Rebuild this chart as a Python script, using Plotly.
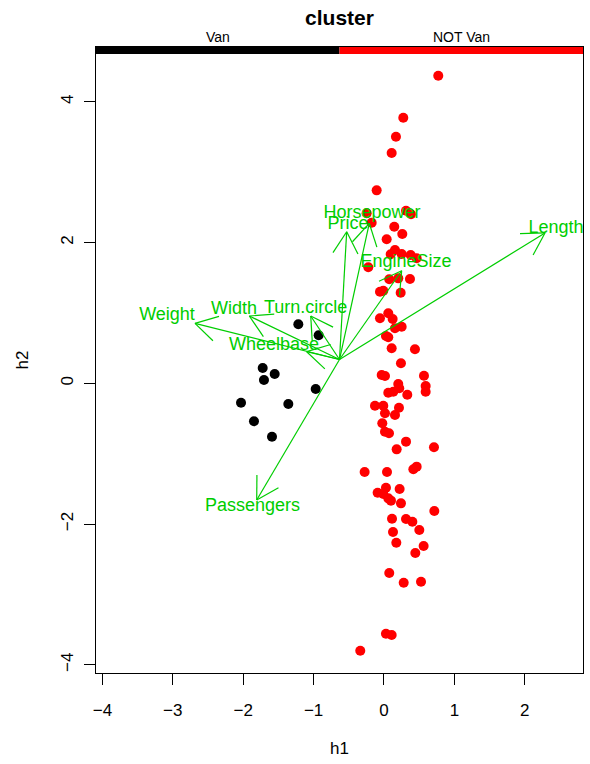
import math
import plotly.graph_objects as go

# ---------------- data ----------------
van_h1 = [-1.217, -0.928, -1.723, -1.553, -1.705, -0.970, -2.031, -1.359, -1.847, -1.591]
van_h2 = [0.838, 0.682, 0.217, 0.132, 0.047, -0.081, -0.276, -0.294, -0.540, -0.759]

notvan_h1 = [0.771, 0.274, 0.170, 0.109, -0.104, -0.246, 0.313, 0.384, -0.175, 0.146, 0.260, 0.038,
             0.156, 0.095, 0.251, 0.379,
             0.464, -0.223, 0.075, 0.203, 0.369, -0.057, -0.010, 0.237, -0.057, 0.061, 0.123, 0.156,
             0.251, 0.028, 0.061, 0.109, 0.440, 0.241, -0.033, 0.014, 0.568, 0.203, 0.592, 0.592,
             0.061, 0.132, 0.217, 0.331, -0.128, -0.010, 0.014, 0.213, 0.156, -0.024, 0.014, 0.071,
             0.313, 0.180, 0.710,
             -0.275, 0.043, 0.417, 0.464, 0.028, -0.090, -0.010, 0.061, 0.099, 0.222, 0.241, 0.715,
             0.114, 0.313, 0.403, 0.502, 0.128, 0.175, 0.563, 0.445, 0.075, 0.280, 0.526, 0.028,
             0.109, -0.337]
notvan_h2 = [4.369, 3.773, 3.503, 3.271, 2.741, 2.415, 2.452, 2.401, 2.281, 2.224, 2.121, 2.045,
             1.893, 1.832, 1.837, 1.822,
             1.776, 1.648, 1.477, 1.491, 1.481, 1.301, 1.315, 1.287, 0.923, 0.994, 0.913, 0.781,
             0.804, 0.672, 0.653, 0.497, 0.483, 0.284, 0.118, 0.104, 0.108, -0.010, -0.038, -0.119,
             -0.133, -0.119, -0.071, -0.162, -0.318, -0.318, -0.426, -0.347, -0.450, -0.568, -0.687, -0.710,
             -0.829, -0.938, -0.909,
             -1.260, -1.260, -1.222, -1.184, -1.483, -1.554, -1.572, -1.634, -1.667, -1.501, -1.705, -1.814,
             -1.923, -1.928, -1.966, -2.084, -2.112, -2.264, -2.311, -2.410, -2.695, -2.832, -2.818, -3.557,
             -3.575, -3.798]

# loading arrows (origin and tips) and label positions
arrow_origin = (-0.632, 0.338)
var_names = ["Length", "EngineSize", "Horsepower", "Price", "Weight", "Width",
             "Turn.circle", "Wheelbase", "Passengers"]
tip_h1 = [2.287, 0.251, -0.209, -0.530, -2.685, -1.913, -1.041, -1.098, -1.808]
tip_h2 = [2.136, 1.599, 2.273, 2.153, 0.852, 0.956, 0.956, 0.449, -1.658]
lab_h1 = [2.443, 0.313, -0.170, -0.511, -3.082, -2.131, -1.112, -1.563, -1.868]
lab_h2 = [2.206, 1.713, 2.419, 2.249, 0.970, 1.055, 1.065, 0.544, -1.753]

group_labels = ["Van", "NOT Van"]
x_ticks = [-4, -3, -2, -1, 0, 1, 2]
y_ticks = [-4, -2, 0, 2, 4]

# ---------------- layout geometry ----------------
W, H = 590, 764
ML, MR, MT, MB = 96, 7, 47, 91
xr = [-4.091, 2.827]
yr = [-4.115, 4.777]
pw, ph = W - ML - MR, H - MT - MB
sx = pw / (xr[1] - xr[0])
sy = ph / (yr[1] - yr[0])

GREEN = "#00CD00"
FONT = "Liberation Sans, Arial, sans-serif"

fig = go.Figure()

fig.add_trace(go.Scatter(x=notvan_h1, y=notvan_h2, mode="markers",
                         marker=dict(color="#FF0000", size=10), showlegend=False,
                         hoverinfo="skip"))
fig.add_trace(go.Scatter(x=van_h1, y=van_h2, mode="markers",
                         marker=dict(color="#000000", size=10), showlegend=False,
                         hoverinfo="skip"))

# arrows with open heads
ax, ay = [], []
head_px = 25
ang = math.radians(30)
ox, oy = arrow_origin
for tx, ty in zip(tip_h1, tip_h2):
    ax += [ox, tx, None]
    ay += [oy, ty, None]
    dxp = (tx - ox) * sx
    dyp = (ty - oy) * sy
    L = math.hypot(dxp, dyp)
    ux, uy = dxp / L, dyp / L
    for s in (1, -1):
        c, sn = math.cos(s * ang), math.sin(s * ang)
        bx = -(ux * c - uy * sn) * head_px
        by = -(ux * sn + uy * c) * head_px
        ax += [tx, tx + bx / sx, None]
        ay += [ty, ty + by / sy, None]
fig.add_trace(go.Scatter(x=ax, y=ay, mode="lines", line=dict(color=GREEN, width=1.2),
                         showlegend=False, hoverinfo="skip"))
fig.add_trace(go.Scatter(x=lab_h1, y=lab_h2, mode="text", text=var_names,
                         textfont=dict(color=GREEN, size=18, family=FONT),
                         textposition="middle center", showlegend=False, hoverinfo="skip"))

# top colour bar
bar_h = 7 / ph
fig.add_shape(type="rect", xref="paper", yref="paper", x0=0, x1=0.5, y0=1 - bar_h, y1=1,
              fillcolor="#000000", line=dict(width=0))
fig.add_shape(type="rect", xref="paper", yref="paper", x0=0.5, x1=1, y0=1 - bar_h, y1=1,
              fillcolor="#FF0000", line=dict(width=0))
for i, g in enumerate(group_labels):
    fig.add_annotation(x=0.25 + 0.5 * i, y=1, xref="paper", yref="paper", text=g,
                       showarrow=False, xanchor="center", yanchor="bottom", yshift=0,
                       font=dict(size=14, family=FONT, color="black"))

fig.update_layout(
    width=W, height=H, margin=dict(l=ML, r=MR, t=MT, b=MB),
    paper_bgcolor="white", plot_bgcolor="white",
    title=dict(text="<b>cluster</b>", x=(ML + pw / 2) / W, xanchor="center",
               y=1 - 18 / H, yanchor="middle", font=dict(size=21, family=FONT, color="black")),
    font=dict(family=FONT, color="black"),
)
fig.update_xaxes(range=xr, tickvals=x_ticks, ticktext=[str(v).replace("-", "\u2212") for v in x_ticks],
                 showgrid=False, zeroline=False, showline=True, mirror=True,
                 linecolor="black", linewidth=1, ticks="outside", ticklen=11, tickcolor="black",
                 ticklabelstandoff=11,
                 tickfont=dict(size=17, family=FONT),
                 title=dict(text="h1", font=dict(size=17, family=FONT), standoff=22))
fig.update_yaxes(range=yr, tickvals=y_ticks, ticktext=[str(v).replace("-", "\u2212") for v in y_ticks],
                 showgrid=False, zeroline=False, showline=True, mirror=True,
                 linecolor="black", linewidth=1, ticks="outside", ticklen=11, tickcolor="black",
                 ticklabelstandoff=4,
                 tickangle=-90, tickfont=dict(size=17, family=FONT),
                 title=dict(text="h2", font=dict(size=17, family=FONT), standoff=25))

fig.write_html("out.html")
